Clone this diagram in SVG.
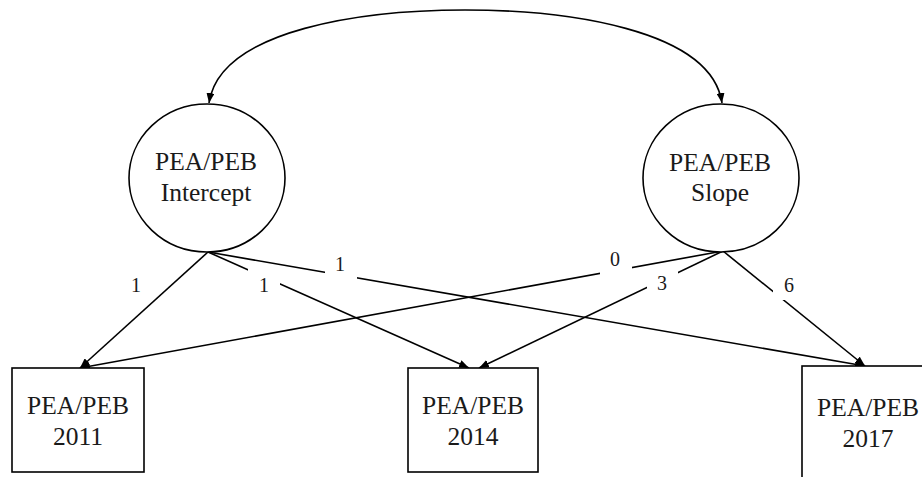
<svg xmlns="http://www.w3.org/2000/svg" width="922" height="477" viewBox="0 0 922 477">
<style>
.shape{fill:#fff;stroke:#000;stroke-width:1.6}
.edge{fill:none;stroke:#000;stroke-width:1.6}
.t{font-family:"Liberation Serif","Times New Roman",serif;font-size:25.5px;fill:#1a1a1a;text-anchor:middle}
.lbl{font-family:"Liberation Serif","Times New Roman",serif;font-size:20px;fill:#1a1a1a;text-anchor:middle}
.bg{fill:#fff;stroke:none}
</style>
<defs>
<marker id="arr" viewBox="0 0 10 8" refX="10" refY="4" markerWidth="10" markerHeight="8" markerUnits="userSpaceOnUse" orient="auto">
<path d="M0,0 L10,4 L0,8 Z" fill="#000"/>
</marker>
</defs>
<rect width="922" height="477" fill="#fff"/>
<g id="connectors">
<path class="edge" d="M465,10 C 368,10 220,28 209,103" marker-end="url(#arr)"/>
<path class="edge" d="M465,10 C 562,10 711,28 722,103" marker-end="url(#arr)"/>
<line class="edge" x1="208" y1="252" x2="80" y2="368" marker-end="url(#arr)"/>
<line class="edge" x1="208" y1="252" x2="469" y2="368" marker-end="url(#arr)"/>
<line class="edge" x1="208" y1="252" x2="865" y2="366" marker-end="url(#arr)"/>
<line class="edge" x1="723" y1="251" x2="80" y2="368" marker-end="url(#arr)"/>
<line class="edge" x1="723" y1="251" x2="479" y2="368" marker-end="url(#arr)"/>
<line class="edge" x1="723" y1="251" x2="865" y2="366" marker-end="url(#arr)"/>
<rect class="bg" x="248" y="267" width="32" height="29"/>
<rect class="bg" x="325" y="254" width="32" height="26"/>
<rect class="bg" x="600" y="250" width="32" height="26"/>
<rect class="bg" x="647" y="268" width="31" height="30"/>
<rect class="bg" x="773" y="272" width="27" height="28"/>
<text class="lbl" x="136" y="292">1</text>
<text class="lbl" x="264" y="292">1</text>
<text class="lbl" x="340" y="271">1</text>
<text class="lbl" x="615" y="266">0</text>
<text class="lbl" x="662" y="290">3</text>
<text class="lbl" x="789" y="292">6</text>
</g>
<g id="intercept">
<ellipse class="shape" cx="207" cy="178" rx="78" ry="74"/>
<text class="t" x="206" y="170">PEA/PEB</text>
<text class="t" x="206" y="201">Intercept</text>
</g>
<g id="slope">
<ellipse class="shape" cx="721" cy="178" rx="78" ry="74"/>
<text class="t" x="720" y="171">PEA/PEB</text>
<text class="t" x="720" y="201">Slope</text>
</g>
<g id="y2011">
<rect class="shape" x="12" y="368" width="132" height="104"/>
<text class="t" x="78" y="414">PEA/PEB</text>
<text class="t" x="78" y="445">2011</text>
</g>
<g id="y2014">
<rect class="shape" x="408" y="368" width="130" height="104"/>
<text class="t" x="473" y="414">PEA/PEB</text>
<text class="t" x="473" y="445">2014</text>
</g>
<g id="y2017">
<rect class="shape" x="802" y="366" width="140" height="130"/>
<text class="t" x="868" y="416">PEA/PEB</text>
<text class="t" x="868" y="447">2017</text>
</g>
</svg>
